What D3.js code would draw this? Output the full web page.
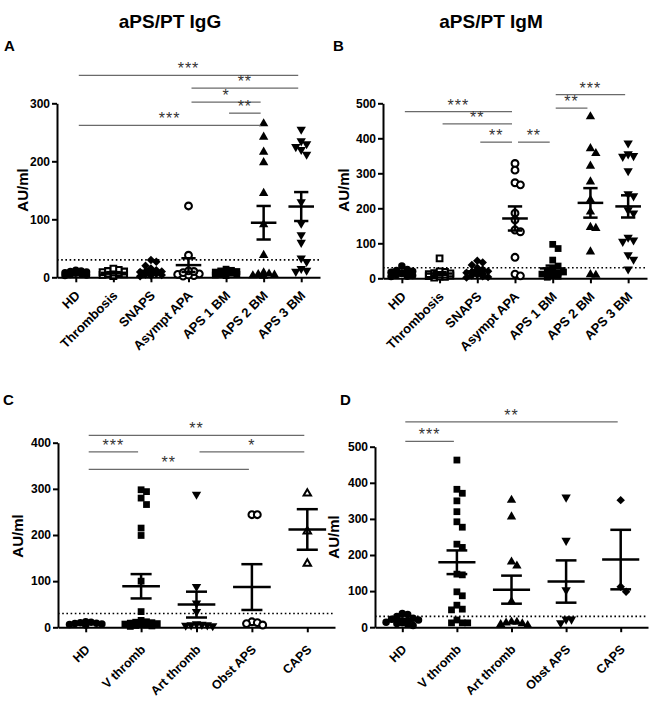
<!DOCTYPE html>
<html><head><meta charset="utf-8">
<script src="https://cdn.jsdelivr.net/npm/d3@7"></script>
<style>
body{margin:0;background:#fff}
svg{display:block}
text{font-family:"Liberation Sans",Arial,Helvetica,sans-serif}
</style>
</head><body>
<svg id="chart" width="649" height="701"></svg>
<script>
// ---------- DATA ----------
const catsBM = ["HD","Thrombosis","SNAPS","Asympt APA","APS 1 BM","APS 2 BM","APS 3 BM"];
const catsClin = ["HD","V thromb","Art thromb","Obst APS","CAPS"];
const ticksA = [0,100,200,300];
const ticksB = [0,100,200,300,400,500];
const ticksC = [0,100,200,300,400];
const ticksD = [0,100,200,300,400,500];
const cutoff = 30;

// Panel A: aPS/PT IgG by APS category
const igG_HD = [3,4,5,6,7,8,9,10,11,12];
const igG_Thromb = [2,3,4,5,6,7,8,9,10,11,13,15];
const igG_SNAPS = [2,3,4,5,6,7,8,9,10,12,15,20,27,30];
const igG_Asympt = [123,38,2,3,4,5,6,8,10,11];
const igG_APS1 = [3,4,5,6,7,8,9,10,11,12,14];
const igG_APS2 = [265,242,216,198,145,91,38,2,3,4,5,6,8];
const igG_APS3 = [255,235,230,225,220,212,130,93,73,60,33,27,15,12,10];

// Panel B: aPS/PT IgM by APS category
const igM_HD = [5,6,8,10,12,14,15,17,20,22,25,35];
const igM_Thromb = [2,4,5,6,8,9,10,11,12,14,15,18,20,57];
const igM_SNAPS = [2,4,6,8,10,12,14,16,18,20,25,30,38,45,50];
const igM_Asympt = [328,309,273,267,186,167,138,133,60,12,7];
const igM_APS1 = [97,85,52,35,28,22,18,15,12,10,8,6,5,3];
const igM_APS2 = [462,371,357,321,276,224,190,146,143,76,11,9];
const igM_APS3 = [386,355,350,348,307,241,235,195,186,117,109,105,67,54,26];

// Panel C: aPS/PT IgG by clinical category
const cG_HD = [5,6,7,8,9,10,11,12];
const cG_V = [298,294,280,266,215,199,100,34,15,12,11,10,9,8,7,6,5,4,3,2];
const cG_Art = [288,88,52,34,7,6,5,5,4,3];
const cG_Obst = [244,244,12,10,8,5];
const cG_CAPS = [290,208,138];

// Panel D: aPS/PT IgM by clinical category
const cM_HD = [5,8,10,12,14,15,18,20,22,25,30,35,38];
const cM_V = [463,382,371,350,320,292,277,230,221,147,145,98,87,61,50,48,20,12,12,12];
const cM_Art = [352,306,181,170,71,15,14,12,10,8,5];
const cM_Obst = [360,240,103,22,22,12];
const cM_CAPS = [352,112,98];

// significance annotations: [from, to, level (AU/ml), label]
const sigA = [["HD","APS 3 BM",348,"***"],["Asympt APA","APS 3 BM",326,"**"],["Asympt APA","APS 2 BM",302,"*"],["APS 1 BM","APS 2 BM",283,"**"],["HD","APS 2 BM",262,"***"]];
const sigB = [["HD","Asympt APA",476,"***"],["Thrombosis","Asympt APA",441,"**"],["SNAPS","Asympt APA",389,"**"],["Asympt APA","APS 1 BM",389,"**"],["APS 1 BM","APS 2 BM",486,"**"],["APS 1 BM","APS 3 BM",525,"***"]];
const sigC = [["HD","CAPS",416,"**"],["HD","V thromb",380,"***"],["Art thromb","CAPS",380,"*"],["HD","Obst APS",342,"**"]];
const sigD = [["HD","CAPS",569,"**"],["HD","V thromb",515,"***"]];

// ---------- STYLE ----------
const symbolDefs = {
  circle:{type:d3.symbolCircle,size:44,fill:"#000",sw:0,rot:0},
  circleOpen:{type:d3.symbolCircle,size:36,fill:"#fff",sw:2.1,rot:0},
  square:{type:d3.symbolSquare,size:46,fill:"#000",sw:0,rot:0},
  squareOpen:{type:d3.symbolSquare,size:32,fill:"#fff",sw:2.1,rot:0},
  diamond:{type:d3.symbolSquare,size:36,fill:"#000",sw:0,rot:45},
  triUp:{type:d3.symbolTriangle,size:38,fill:"#000",sw:0,rot:0},
  triDown:{type:d3.symbolTriangle,size:38,fill:"#000",sw:0,rot:180},
  triUpOpen:{type:d3.symbolTriangle,size:24,fill:"#fff",sw:2,rot:0}
};

const svg = d3.select("#chart");

function swarm(vals, y, step, ch, maxOff){
  const pts = vals.map(v=>({v,py:y(v),dx:0}));
  const order = pts.slice().sort((a,b)=>d3.descending(a.v,b.v));
  const offs=[0];
  for(let k=1;k*step<=maxOff+0.01;k++){offs.push(k*step,-k*step);}
  const placed=[];
  order.forEach(p=>{
    let best=0,bestC=Infinity;
    for(const o of offs){
      let c=0;
      for(const q of placed){ if(Math.abs(q.dx-o)<step*0.99 && Math.abs(q.py-p.py)<ch) c++; }
      if(c===0){best=o;bestC=0;break;}
      if(c<bestC){bestC=c;best=o;}
    }
    p.dx=best; placed.push(p);
  });
  return pts;
}

function panel(cfg){
  const g = svg.append("g");
  const x = d3.scalePoint().domain(cfg.cats).range([cfg.x0,cfg.x1]).padding(0.5);
  const y = d3.scaleLinear().domain([0,cfg.ymax]).range([cfg.y0,cfg.ytop]);
  const step = x.step();

  // axes
  const ya = g.append("g").attr("transform",`translate(${cfg.x0},0)`)
    .call(d3.axisLeft(y).tickValues(cfg.yticks).tickSize(5).tickSizeOuter(0).tickPadding(2));
  const xa = g.append("g").attr("transform",`translate(0,${cfg.y0})`)
    .call(d3.axisBottom(x).tickSize(5).tickSizeOuter(0).tickFormat(""));
  [ya,xa].forEach(a=>{
    a.select(".domain").attr("stroke","#000").attr("stroke-width",2);
    a.selectAll(".tick line").attr("stroke","#000").attr("stroke-width",2);
  });
  ya.selectAll(".tick text").attr("font-size",12).attr("font-weight","bold").attr("fill","#000")
    .attr("font-family","'Liberation Sans',Arial,sans-serif");

  g.selectAll(".xl").data(cfg.cats).join("text")
    .attr("transform",d=>`translate(${x(d)+5},${cfg.y0+cfg.labOff}) rotate(-45)`)
    .attr("text-anchor","end").attr("font-size",cfg.labSize).attr("font-weight","bold").text(d=>d);

  // y label
  g.append("text").attr("transform",`translate(${cfg.ylabX},${cfg.ylabY}) rotate(-90)`)
    .attr("text-anchor","middle").attr("font-size",15).attr("font-weight","bold").text("AU/ml");

  // cutoff dotted line
  g.append("line").attr("x1",cfg.x0).attr("x2",cfg.x1).attr("y1",y(cutoff)).attr("y2",y(cutoff))
    .attr("stroke","#000").attr("stroke-width",1.6).attr("stroke-dasharray","1.6,2.6");

  // points
  cfg.groups.forEach((vals,i)=>{
    const cx = x(cfg.cats[i]);
    const sd = symbolDefs[cfg.syms[i]];
    const pts = swarm(vals,y,5.4,6.5,step*0.36);
    const sym = d3.symbol().type(sd.type).size(sd.size);
    g.append("g").selectAll("path").data(pts).join("path")
      .attr("d",sym)
      .attr("transform",p=>`translate(${cx+p.dx},${p.py}) rotate(${sd.rot})`)
      .attr("fill",sd.fill).attr("stroke",sd.sw?"#000":"none").attr("stroke-width",sd.sw);
  });

  // mean ± SEM
  cfg.groups.forEach((vals,i)=>{
    const cx = x(cfg.cats[i]);
    const m = d3.mean(vals), s = d3.deviation(vals)/Math.sqrt(vals.length);
    const eg = g.append("g").attr("stroke","#000").attr("stroke-width",2.5);
    const hw = step*0.34, cw = step*0.19;
    eg.append("line").attr("x1",cx-hw).attr("x2",cx+hw).attr("y1",y(m)).attr("y2",y(m));
    eg.append("line").attr("x1",cx).attr("x2",cx).attr("y1",y(m-s)).attr("y2",y(m+s));
    eg.append("line").attr("x1",cx-cw).attr("x2",cx+cw).attr("y1",y(m+s)).attr("y2",y(m+s));
    eg.append("line").attr("x1",cx-cw).attr("x2",cx+cw).attr("y1",y(m-s)).attr("y2",y(m-s));
  });

  // significance bars
  cfg.sig.forEach(([a,b,lev,lab])=>{
    const xa1 = x(a)+3, xb1 = x(b)-3, yy = y(lev);
    g.append("line").attr("x1",xa1).attr("x2",xb1).attr("y1",yy).attr("y2",yy)
      .attr("stroke","#6a6a6a").attr("stroke-width",1.3);
    g.append("text").attr("x",(xa1+xb1)/2).attr("y",yy-1).attr("text-anchor","middle")
      .attr("font-size",16).attr("letter-spacing",1).attr("fill","#333").text(lab);
  });

  // panel letter
  g.append("text").attr("x",cfg.letX).attr("y",cfg.letY).attr("font-size",15).attr("font-weight","bold").text(cfg.letter);
}

const symsBM = ["circle","squareOpen","diamond","circleOpen","square","triUp","triDown"];

panel({cats:catsBM, groups:[igG_HD,igG_Thromb,igG_SNAPS,igG_Asympt,igG_APS1,igG_APS2,igG_APS3],
  syms:symsBM, x0:57, x1:320, y0:277.3, ytop:103.3, ymax:300, yticks:ticksA, sig:sigA,
  labOff:19, labSize:13, ylabX:28, ylabY:190, letter:"A", letX:4, letY:51});
panel({cats:catsBM, groups:[igM_HD,igM_Thromb,igM_SNAPS,igM_Asympt,igM_APS1,igM_APS2,igM_APS3],
  syms:symsBM, x0:383, x1:647, y0:278.3, ytop:103.3, ymax:500, yticks:ticksB, sig:sigB,
  labOff:19, labSize:13, ylabX:349, ylabY:190, letter:"B", letX:333, letY:51});
panel({cats:catsClin, groups:[cG_HD,cG_V,cG_Art,cG_Obst,cG_CAPS],
  syms:["circle","square","triDown","circleOpen","triUpOpen"], x0:58, x1:335, y0:627.3, ytop:442.7, ymax:400, yticks:ticksC, sig:sigC,
  labOff:23, labSize:12.5, ylabX:23, ylabY:536, letter:"C", letX:3, letY:405});
panel({cats:catsClin, groups:[cM_HD,cM_V,cM_Art,cM_Obst,cM_CAPS],
  syms:["circle","square","triUp","triDown","diamond"], x0:375, x1:648, y0:627.2, ytop:446.7, ymax:500, yticks:ticksD, sig:sigD,
  labOff:23, labSize:12.5, ylabX:339, ylabY:537, letter:"D", letX:340, letY:405});

// titles
svg.append("text").attr("x",170).attr("y",28).attr("text-anchor","middle").attr("font-size",19).attr("font-weight","bold").text("aPS/PT IgG");
svg.append("text").attr("x",491).attr("y",28).attr("text-anchor","middle").attr("font-size",19).attr("font-weight","bold").text("aPS/PT IgM");
</script>
</body></html>
